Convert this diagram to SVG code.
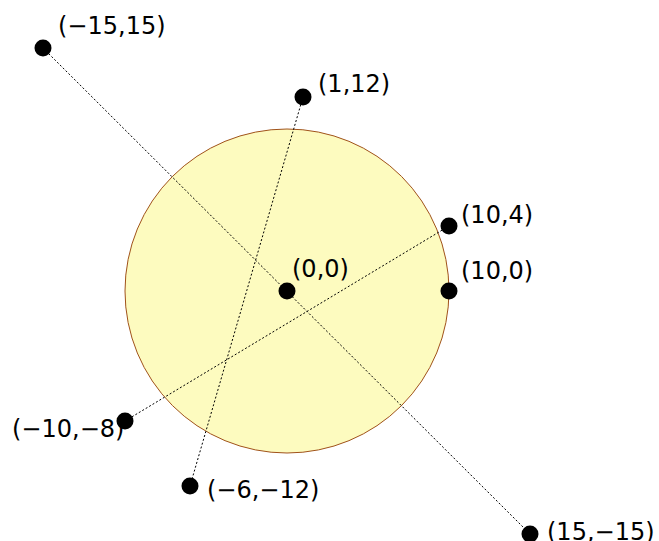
<svg xmlns="http://www.w3.org/2000/svg" width="659" height="541" viewBox="0 0 659 541">
<style>
.pt{fill:#000}
.lbl{font-family:"DejaVu Sans",sans-serif;font-size:24px;fill:#000}
.ln{stroke:#000;stroke-width:1;stroke-dasharray:2,2;fill:none}
</style>
<rect width="659" height="541" fill="#fff"/>
<g id="circle"><circle cx="287" cy="291" r="162" fill="#fdfbbf" stroke="#a0521a" stroke-width="1"/></g>
<g id="connectors">
<line class="ln" x1="43" y1="48" x2="530" y2="534"/>
<line class="ln" x1="303" y1="97" x2="190" y2="486"/>
<line class="ln" x1="449" y1="226" x2="125" y2="421"/>
</g>
<g id="p00"><circle class="pt" cx="287" cy="291" r="8.5"/><text class="lbl" x="292" y="277">(0,0)</text></g>
<g id="p100"><circle class="pt" cx="449" cy="291" r="8.5"/><text class="lbl" x="461" y="279">(10,0)</text></g>
<g id="p104"><circle class="pt" cx="449" cy="226" r="8.5"/><text class="lbl" x="461" y="223">(10,4)</text></g>
<g id="p112"><circle class="pt" cx="303" cy="97" r="8.5"/><text class="lbl" x="318" y="92">(1,12)</text></g>
<g id="pm1515"><circle class="pt" cx="43" cy="48" r="8.5"/><text class="lbl" x="58" y="34">(−15,15)</text></g>
<g id="pm10m8"><circle class="pt" cx="125" cy="421" r="8.5"/><text class="lbl" x="12" y="437">(−10,−8)</text></g>
<g id="pm6m12"><circle class="pt" cx="190" cy="486" r="8.5"/><text class="lbl" x="207" y="498">(−6,−12)</text></g>
<g id="p15m15"><circle class="pt" cx="530" cy="534" r="8.5"/><text class="lbl" x="547" y="540">(15,−15)</text></g>
</svg>
